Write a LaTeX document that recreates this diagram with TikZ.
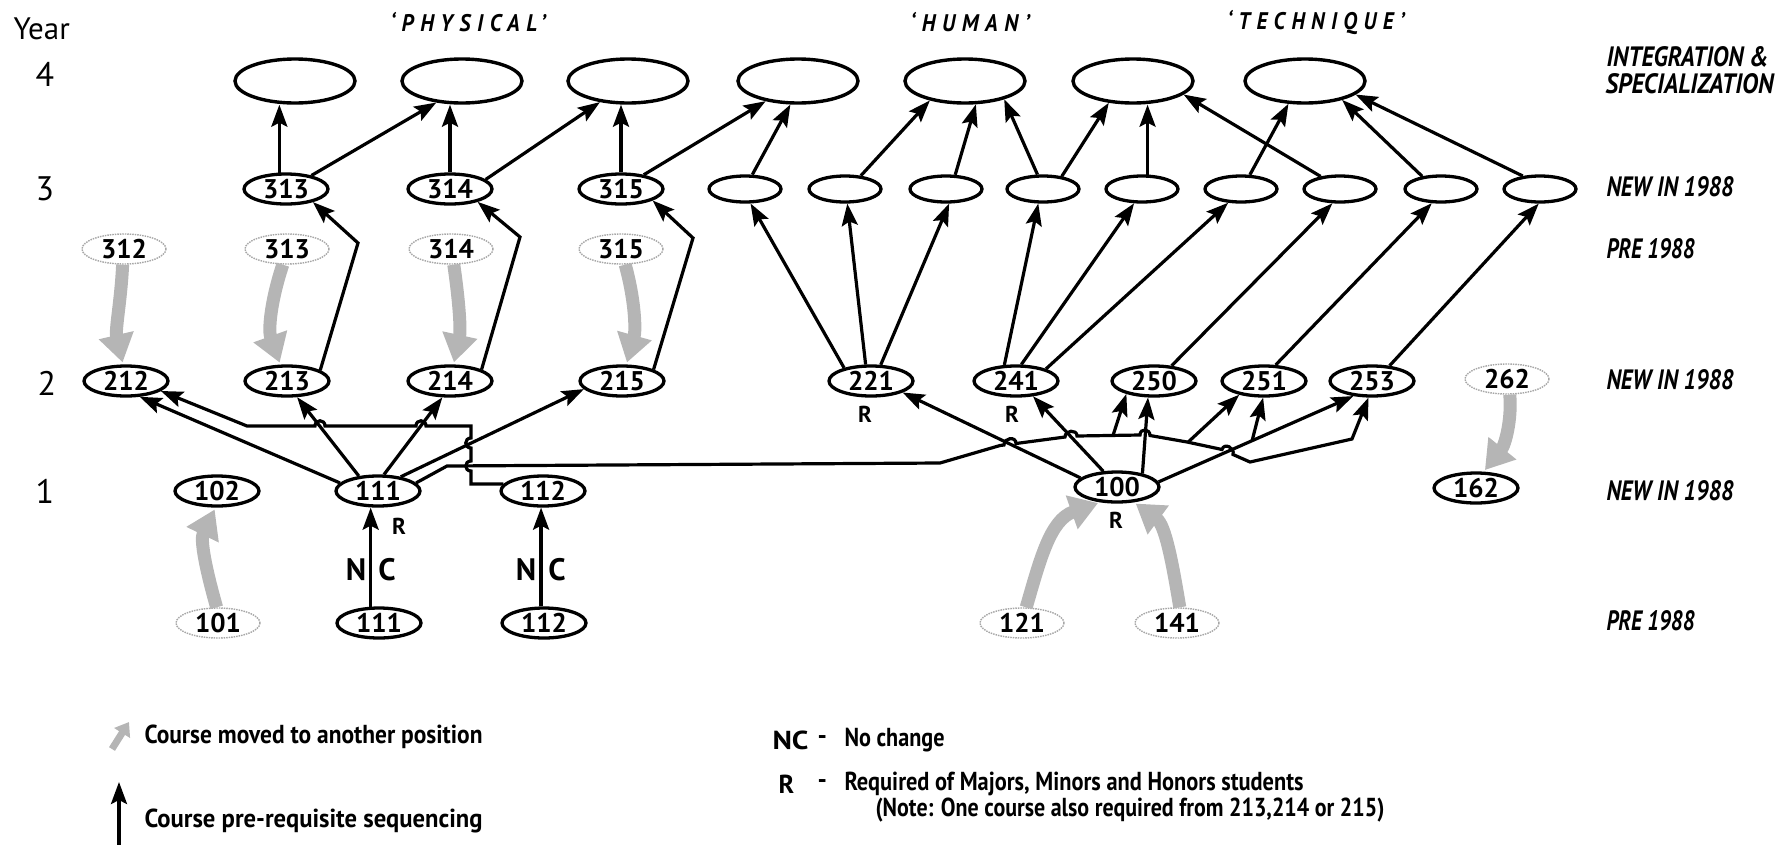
\documentclass[tikz,border=0pt]{standalone}
\usepackage{fontspec}
\setmainfont{PT Sans}
\newfontfamily\spaced{PT Sans}[LetterSpace=30]
\usepackage{graphicx}
\usetikzlibrary{shapes.geometric,arrows.meta,calc}
\newcommand\fitw[2]{\resizebox{#1}{\height}{#2}}
\begin{document}
\begin{tikzpicture}[x=1pt,y=-1pt,
  num/.style={ellipse, draw, line width=3.3pt, minimum width=84pt, minimum height=30pt, inner sep=0pt, font=\fontsize{27}{27}\selectfont\bfseries},
  old/.style={num, draw=gray!70, line width=1.4pt, dash pattern=on 1.5pt off 1pt},
  big/.style={ellipse, draw, line width=3.4pt, minimum width=120pt, minimum height=44pt, inner sep=0pt},
  emp/.style={ellipse, draw, line width=3.3pt, minimum width=72pt, minimum height=26pt, inner sep=0pt},
  arr/.style={line width=3.2pt, -{Stealth[length=22pt,width=16pt,inset=4pt]}},
  mv/.style={line width=13pt, draw=gray!58, -{Triangle[length=28pt,width=34pt]}, shorten >=2pt},
  mvs/.style={line width=7pt, draw=gray!58, -{Triangle[length=13pt,width=18pt]}},
  yr/.style={font=\fontsize{34}{34}\selectfont},
  rl/.style={anchor=west, font=\fontsize{28}{28}\selectfont\bfseries\itshape},
  ttl/.style={font=\spaced\fontsize{24}{24}\selectfont\bfseries\itshape},
  rlab/.style={font=\fontsize{23}{23}\selectfont\bfseries},
  nclab/.style={font=\fontsize{31}{31}\selectfont\bfseries},
  lg/.style={anchor=west, font=\fontsize{26}{26}\selectfont\bfseries}
]
\useasboundingbox (0,0) rectangle (1775,844);

% left year labels
\node[anchor=west, font=\fontsize{31}{31}\selectfont] (year) at (10,29) {Year};
\node[yr] (y4) at (45,74) {4};
\node[yr] (y3) at (45,189) {3};
\node[yr] (y2) at (47,383) {2};
\node[yr] (y1) at (45,491) {1};

% titles
\node[ttl] (tphys) at (468,22) {\fitw{155pt}{‘PHYSICAL’}};
\node[ttl] (thum) at (970,22) {\fitw{119pt}{‘HUMAN’}};
\node[ttl] (ttech) at (1316,22) {\fitw{177pt}{‘TECHNIQUE’}};

% right labels
\node[rl] (l4a) at (1603,57) {\fitw{162pt}{INTEGRATION \&}};
\node[rl] (l4b) at (1602,84) {\fitw{168pt}{SPECIALIZATION}};
\node[rl] (l3) at (1603,187) {\fitw{127pt}{NEW IN 1988}};
\node[rl] (l3p) at (1603,249) {\fitw{88pt}{PRE 1988}};
\node[rl] (l2) at (1603,380) {\fitw{127pt}{NEW IN 1988}};
\node[rl] (l1) at (1603,491) {\fitw{127pt}{NEW IN 1988}};
\node[rl] (l0) at (1603,621) {\fitw{88pt}{PRE 1988}};

% year 4
\node[big] (A1) at (295,81) {};
\node[big] (A2) at (462,81) {};
\node[big] (A3) at (628,81) {};
\node[big] (A4) at (798,81) {};
\node[big] (A5) at (965,81) {};
\node[big] (A6) at (1133,81) {};
\node[big] (A7) at (1305,81) {};

% year 3
\node[num] (n313) at (286,189) {313};
\node[num] (n314) at (450,189) {314};
\node[num] (n315) at (621,189) {315};
\node[emp] (e1) at (745,189) {};
\node[emp] (e2) at (845,189) {};
\node[emp] (e3) at (946,189) {};
\node[emp] (e4) at (1043,189) {};
\node[emp] (e5) at (1142,189) {};
\node[emp] (e6) at (1241,189) {};
\node[emp] (e7) at (1340,189) {};
\node[emp] (e8) at (1441,189) {};
\node[emp] (e9) at (1540,189) {};

% pre 1988 year 3
\node[old] (g312) at (124,249) {312};
\node[old] (g313) at (287,249) {313};
\node[old] (g314) at (451,249) {314};
\node[old] (g315) at (621,249) {315};

% year 2
\node[num] (n212) at (126,381) {212};
\node[num] (n213) at (287,381) {213};
\node[num] (n214) at (450,381) {214};
\node[num] (n215) at (622,381) {215};
\node[num] (n221) at (871,381) {221};
\node[num] (n241) at (1016,381) {241};
\node[num] (n250) at (1154,381) {250};
\node[num] (n251) at (1264,381) {251};
\node[num] (n253) at (1372,381) {253};
\node[old] (g262) at (1507,379) {262};

% year 1
\node[num] (n102) at (217,491) {102};
\node[num] (n111) at (378,491) {111};
\node[num] (n112) at (543,491) {112};
\node[num] (n100) at (1117,487) {100};
\node[num] (n162) at (1476,488) {162};

% pre 1988 year 1
\node[old] (g101) at (218,623) {101};
\node[num] (b111) at (379,623) {111};
\node[num] (b112) at (544,623) {112};
\node[old] (g121) at (1022,623) {121};
\node[old] (g141) at (1177,623) {141};

% R and NC labels
\node[rlab] (r111) at (399,526) {R};
\node[rlab] (r221) at (865,414) {R};
\node[rlab] (r241) at (1012,414) {R};
\node[rlab] (r100) at (1116,520) {R};
\node[nclab] (nc1n) at (356,570) {N};
\node[nclab] (nc1c) at (387,570) {C};
\node[nclab] (nc2n) at (526,570) {N};
\node[nclab] (nc2c) at (557,570) {C};

% year 3 -> year 4
\draw[arr] (n313.112) -- (n313.112 |- A1.south);
\draw[arr] (n313.28) -- (A2.220);
\draw[arr] (n314.north) -- (n314.north |- A2.south);
\draw[arr] (n314.15) -- (A3.217);
\draw[arr] (n315.north) -- (n315.north |- A3.south);
\draw[arr] (n315.32) -- (A4.212);
\draw[arr] (e1.63) -- (A4.252);
\draw[arr] (e2.40) -- (A5.209);
\draw[arr] (e3.57) -- (A5.295);
\draw[arr] (e4.111) -- (A5.335);
\draw[arr] (e4.34) -- (A6.222);
\draw[arr] (e5.69) -- (e5.69 |- A6.south);
\draw[arr] (e6.58) -- (A7.234);
\draw[arr] (e7.147) -- (A6.345);
\draw[arr] (e8.146) -- (A7.333);
\draw[arr] (e9.143) -- (A7.345);

% year 2 -> year 3 (physical)
\coordinate (k313) at (358,243);
\coordinate (k314) at (520,237);
\coordinate (k315) at (693,238);
\draw[arr] (n213.18) -- (k313) -- (n313.334);
\draw[arr] (n214.20) -- (k314) -- (n314.335);
\draw[arr] (n215.20) -- (k315) -- (n315.340);

% year 2 -> year 3 (human / technique)
\draw[arr] (n221.154) -- (e1.291);
\draw[arr] (n221.108) -- (e2.279);
\draw[arr] (n221.59) -- (e3.282);
\draw[arr] (n241.126) -- (e4.252);
\draw[arr] (n241.72) -- (e5.241);
\draw[arr] (n241.22) -- (e6.227);
\draw[arr] (n250.41) -- (e7.242);
\draw[arr] (n251.54) -- (e8.237);
\draw[arr] (n253.41) -- (e9.265);

% 111 -> year 2
\draw[arr] (n111.168) -- (n212.311);
\draw[arr] (n111.142) -- (n213.302);
\draw[arr] (n111.70) -- (n214.245);
\draw[arr] (n111.32) -- (n215.192);

% 112 -> 212
\draw[arr] (n112.170) -- (471,484) -- (471,471) .. controls (464,471) and (464,461) .. (471,461)
  -- (471,448) .. controls (464,448) and (464,438) .. (471,438) -- (471,426)
  -- (426,426) .. controls (426,419) and (416,419) .. (416,426)
  -- (325,426) .. controls (325,419) and (315,419) .. (315,426)
  -- (247,426) -- (n212.344);

% long line 111 -> 250, 251, 253
\draw[arr] (n111.12) -- (447,466) -- (940,463) -- (1000,445.5) -- (1004,445)
  .. controls (1004,437.5) and (1016,436) .. (1016,443.5) -- (1065,437)
  .. controls (1065,430) and (1077,429) .. (1077,436) -- (1140,435)
  .. controls (1140,428) and (1150,428.5) .. (1150,435.5) -- (1187,442) -- (1222,449.5)
  .. controls (1224,442.5) and (1235,447.5) .. (1233,454.5) -- (1250,462) -- (1352,439) -- (n253.258);
\coordinate (b250) at (1113,435.5);
\coordinate (b251) at (1188,442.2);
\draw[arr] (b250) -- (n250.205);
\draw[arr] (b251) -- (n251.209);

% 100 -> year 2
\draw[arr] (n100.166) -- (n221.340);
\draw[arr] (n100.131) -- (n241.318);
\draw[arr] (n100.28) -- (n250.250);
\draw[arr] (n100.7) -- coordinate[pos=0.48] (b251r) (n253.219);
\draw[arr] (b251r) -- (n251.267);

% NC arrows
\draw[arr] (b111.117) -- (b111.117 |- n111.south);
\draw[arr] (b112.100) -- (b112.100 |- n112.south);

% grey moved arrows
\draw[mv] (g312.-95) .. controls (121,300) and (115,330) .. (n212.100);
\draw[mv] (g313.-105) .. controls (271,300) and (268,330) .. (n213.112);
\draw[mv] (g314.-80) .. controls (459,300) and (461,330) .. (n214.78);
\draw[mv] (g315.-75) .. controls (635,300) and (636,330) .. (n215.75);
\draw[mv] (g101.95) .. controls (206,570) and (200,540) .. (n102.-95);
\draw[mv] (g121.75) .. controls (1040,560) and (1050,520) .. (n100.222);
\draw[mv] (g141.80) .. controls (1172,560) and (1165,525) .. (n100.318);
\draw[mv] (g262.-80) .. controls (1512,420) and (1505,445) .. (n162.65);

% legend
\coordinate (lga) at (112,749);
\coordinate (lgc) at (129,722);
\draw[mvs] (lga) -- (lgc);
\node[lg] (lgt1) at (141,737) {\fitw{338pt}{Course moved to another position}};
\coordinate (lgb) at (119,846);
\coordinate (lgt) at (119,782);
\draw[arr] (lgb) -- (lgt);
\node[lg] (lgt2) at (141,821) {\fitw{338pt}{Course pre-requisite sequencing}};
\node[lg] (lnc) at (769,740) {\fitw{36pt}{NC}};
\node[lg] (lncd) at (814,740) {-};
\node[lg] (lnct) at (841,740) {\fitw{100pt}{No change}};
\node[lg] (lr) at (775,784) {R};
\node[lg] (lrd) at (814,784) {-};
\node[lg] (lrt) at (841,784) {\fitw{459pt}{Required of Majors, Minors and Honors students}};
\node[lg] (lnote) at (872,810) {\fitw{509pt}{(Note: One course also required from 213,214 or 215)}};
\end{tikzpicture}
\end{document}
